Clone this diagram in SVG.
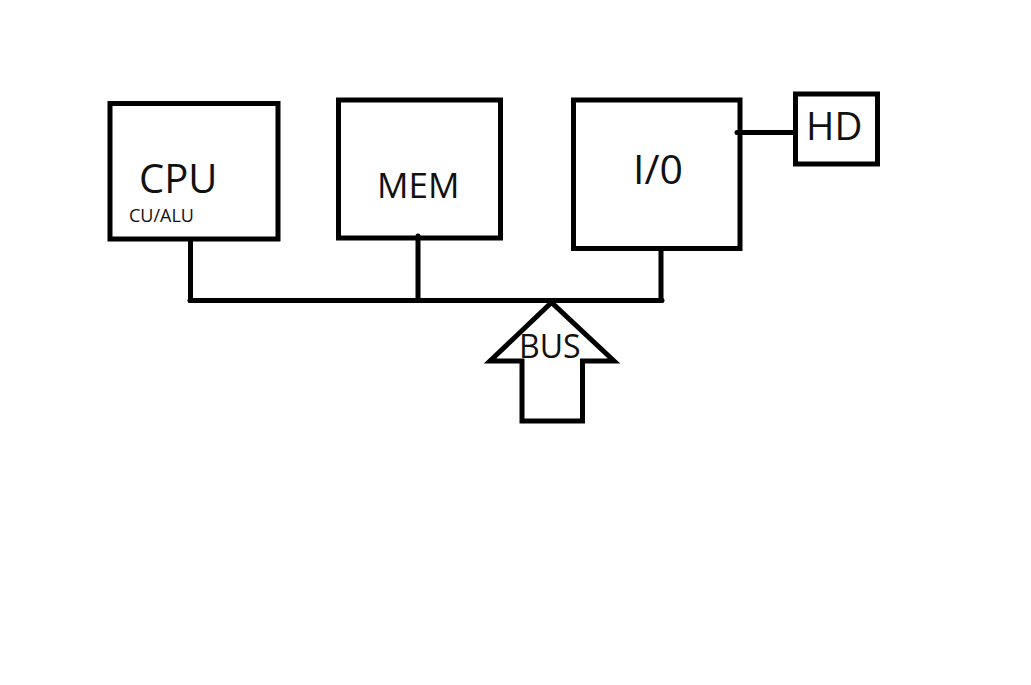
<svg xmlns="http://www.w3.org/2000/svg" width="1031" height="685" viewBox="0 0 1031 685">
  <style>
    .box { fill: none; stroke: #000; stroke-width: 5; }
    .wire { fill: none; stroke: #000; stroke-width: 5; stroke-linecap: round; stroke-linejoin: miter; }
    .lbl { font-family: "Open Sans", "Liberation Sans", sans-serif; fill: #111; }
  </style>
  <rect width="1031" height="685" fill="#fff"/>

  <g id="cpu">
    <rect class="box" x="110" y="103.5" width="168" height="135.5"/>
    <text class="lbl" x="139" y="193" font-size="40">CPU</text>
    <text class="lbl" x="129" y="222" font-size="18">CU/ALU</text>
  </g>

  <g id="mem">
    <rect class="box" x="338.5" y="100" width="162" height="138"/>
    <text class="lbl" x="377" y="198" font-size="35">MEM</text>
  </g>

  <g id="io">
    <rect class="box" x="573.5" y="100" width="166.5" height="148.5"/>
    <text class="lbl" x="633" y="184" font-size="41">I/0</text>
  </g>

  <g id="hd">
    <rect class="box" x="795.5" y="94" width="82" height="70"/>
    <text class="lbl" x="806" y="140" font-size="38.5">HD</text>
  </g>

  <g id="bus">
    <path class="wire" d="M522 421 L522 361 L490 361 L551.5 302.5 L614 361 L582.5 361 L582.5 421 Z"/>
    <text class="lbl" x="519" y="358" font-size="32">BUS</text>
  </g>

  <g id="connectors">
    <!-- shared bus line -->
    <line class="wire" x1="190" y1="300.5" x2="662" y2="300.5"/>
    <!-- drops from each unit onto the bus -->
    <line class="wire" x1="190.5" y1="241" x2="190.5" y2="300.5"/>
    <line class="wire" x1="418" y1="236" x2="418" y2="300.5"/>
    <line class="wire" x1="661" y1="250" x2="661" y2="300.5"/>
    <!-- I/O to disk -->
    <line class="wire" x1="737" y1="132.5" x2="795" y2="132.5"/>
  </g>
</svg>
